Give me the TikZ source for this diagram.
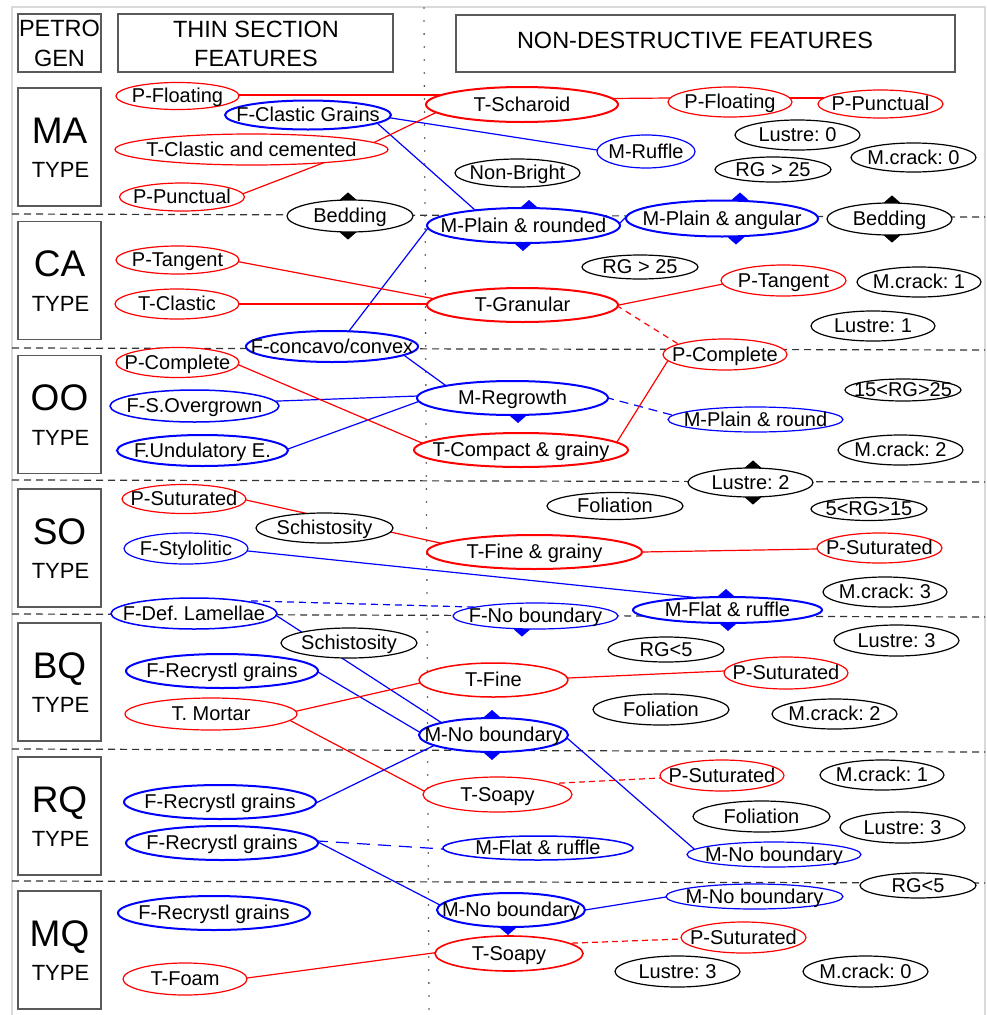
\documentclass[tikz,border=0pt]{standalone}
\usepackage{fontspec}
\setmainfont{Liberation Sans}
\usetikzlibrary{calc,shapes.geometric}
\pgfdeclarelayer{bg}
\pgfsetlayers{bg,main}
\frenchspacing
\newcommand\et[1]{\smash{\makebox[0pt]{\raisebox{-0.34em}{#1}}}}
\newcommand\dmd[2]{\fill[#1] (#2) +(-8,0) -- +(0,-7) -- +(8,0) -- +(0,7) -- cycle;}
\definecolor{rd}{RGB}{255,0,0}
\definecolor{bl}{RGB}{0,0,255}
\tikzset{
  el/.style={ellipse, fill=white, inner sep=0pt, line width=1.2pt, font=\fontsize{20}{23}\selectfont},
  rn/.style={el, draw=rd},
  bn/.style={el, draw=bl},
  kn/.style={el, draw=black},
  thk/.style={line width=2pt},
  sz/.style 2 args={minimum width=#1, minimum height=#2},
  con/.style={line width=1.2pt, shorten <=-3pt, shorten >=-3pt},
  rc/.style={con, rd},
  bc/.style={con, bl},
  sep/.style={line width=1.2pt, dash pattern=on 7pt off 5pt, black!80},
  box/.style={draw=black!65, line width=1.3pt, inner sep=0pt, fill=white},
  hdr/.style={font=\fontsize{23.5}{29.5}\selectfont, inner sep=0pt},
  big/.style={font=\fontsize{37}{37}\selectfont, inner sep=0pt, text height=26.5pt, text depth=0pt},
  typ/.style={font=\fontsize{22}{22}\selectfont, inner sep=0pt, text height=15.8pt, text depth=0pt},
}
\begin{document}
\begin{tikzpicture}[x=1pt,y=-1pt]
\useasboundingbox (0,0) rectangle (986,1015);
% ---------- headers ----------
\node[box, minimum width=83, minimum height=58] (hpg) at (59.5,43) {};
\node[hdr] (hpg1) at (59.5,28.5) {PETRO};
\node[hdr] (hpg2) at (59.5,58) {GEN};
\node[box, minimum width=275, minimum height=58] (hts) at (255.5,43) {};
\node[hdr] (hts1) at (256,29) {THIN SECTION};
\node[hdr] (hts2) at (256,58) {FEATURES};
\node[box, minimum width=499, minimum height=57] (hnd) at (705.5,43.5) {};
\node[hdr] (hnd1) at (695,40) {NON-DESTRUCTIVE FEATURES};
% ---------- type boxes ----------
\foreach \n/\y in {MA/147,CA/280.5,OO/414.5,SO/548,BQ/682,RQ/816,MQ/950}{
  \node[box, minimum width=83, minimum height=118] (t\n) at (59.5,\y) {};
  \node[big] (t\n l) at ($(t\n)+(0,-17)$) {\n};
  \node[typ] (t\n t) at ($(t\n)+(1,23)$) {TYPE};
}
% ---------- MA ----------
\node[rn,sz={123}{27}] (pfl) at (177.5,96) {\et{P-Floating}};
\node[bn,thk,sz={166}{29}] (fcg) at (308,115) {\et{F-Clastic Grains}};
\node[rn,sz={273}{31}] (tcc) at (251.5,149.5) {\et{T-Clastic and cemented}};
\node[rn,sz={125}{28}] (ppu) at (182,197) {\et{P-Punctual}};
\node[kn,sz={126}{32}] (bedl) at (350,216) {\et{Bedding}};
\node[rn,thk,sz={192}{35}] (tsch) at (522,104.5) {\et{T-Scharoid}};
\node[rn,sz={124}{30}] (pflr) at (730,102) {\et{P-Floating}};
\node[rn,sz={125}{28}] (ppur) at (880.5,104) {\et{P-Punctual}};
\node[bn,sz={98}{33}] (mruf) at (646,151.5) {\et{M-Ruffle}};
\node[kn,sz={125}{30}] (lus0) at (797.5,135) {\et{Lustre: 0}};
\node[kn,sz={125}{29}] (mcr0) at (913.5,157.5) {\et{M.crack: 0}};
\node[kn,sz={116}{25}] (rg25a) at (773,169.5) {\et{RG > 25}};
\node[kn,sz={125}{28}] (nonb) at (517.5,173) {\et{Non-Bright}};
\node[bn,thk,sz={193}{35}] (mpr) at (523.5,225.5) {\et{M-Plain \& rounded}};
\node[bn,thk,sz={192}{36}] (mpa) at (722,218.5) {\et{M-Plain \& angular}};
\node[kn,sz={125}{32}] (bedr) at (889.5,219) {\et{Bedding}};
% ---------- CA ----------
\node[rn,sz={123}{28}] (ptl) at (177.5,260) {\et{P-Tangent}};
\node[rn,sz={124}{30}] (tcl) at (177,304) {\et{T-Clastic}};
\node[rn,thk,sz={191}{34}] (tgr) at (522.5,305) {\et{T-Granular}};
\node[kn,sz={116}{24}] (rg25b) at (640,267) {\et{RG > 25}};
\node[rn,sz={125}{31}] (ptr) at (783.5,280.5) {\et{P-Tangent}};
\node[kn,sz={124}{30}] (mcr1) at (919,282) {\et{M.crack: 1}};
\node[kn,sz={124}{30}] (lus1) at (873,326) {\et{Lustre: 1}};
\node[bn,thk,sz={172}{31}] (fcc) at (332,346.5) {\et{F-concavo/convex}};
\node[rn,sz={124}{31}] (pcr) at (725,354.5) {\et{P-Complete}};
% ---------- OO ----------
\node[rn,sz={123}{30}] (pcl) at (177.5,362.5) {\et{P-Complete}};
\node[bn,line width=1.5pt,sz={169}{32}] (fso) at (194.5,406) {\et{F-S.Overgrown}};
\node[bn,thk,sz={171}{31}] (fue) at (202.5,450.5) {\et{F.Undulatory E.}};
\node[bn,thk,sz={191}{34}] (mreg) at (512.5,398) {\et{M-Regrowth}};
\node[rn,thk,sz={214}{34}] (tcg) at (521,450) {\et{T-Compact \& grainy}};
\node[bn,sz={175}{25}] (mpro) at (755.5,419.5) {\et{M-Plain \& round}};
\node[kn,sz={116}{22}] (rg1525) at (903,390) {\et{15<RG>25}};
\node[kn,sz={125}{30}] (mcr2a) at (900.5,450) {\et{M.crack: 2}};
\node[kn,sz={125}{29}] (lus2) at (750.5,482.5) {\et{Lustre: 2}};
% ---------- SO ----------
\node[rn,sz={124}{29}] (psl) at (184,499) {\et{P-Suturated}};
\node[kn,sz={137}{30}] (sch1) at (324.5,528) {\et{Schistosity}};
\node[bn,sz={124}{31}] (fsty) at (186,548.5) {\et{F-Stylolitic}};
\node[kn,sz={136}{27}] (fol1) at (615,506) {\et{Foliation}};
\node[kn,sz={116}{23}] (rg515) at (869,509) {\et{5<RG>15}};
\node[rn,thk,sz={215}{34}] (tfg) at (534.5,552) {\et{T-Fine \& grainy}};
\node[rn,sz={125}{30}] (psr1) at (879.5,548) {\et{P-Suturated}};
\node[kn,sz={124}{30}] (mcr3) at (885,592) {\et{M.crack: 3}};
\node[bn,thk,sz={189}{26}] (mfr1) at (727.5,610) {\et{M-Flat \& ruffle}};
\node[bn,line width=1.5pt,sz={166}{31}] (fdl) at (194,613.5) {\et{F-Def. Lamellae}};
\node[bn,sz={165}{26}] (fnb) at (535.5,616) {\et{F-No boundary}};
% ---------- BQ ----------
\node[kn,sz={136}{30}] (sch2) at (349,643) {\et{Schistosity}};
\node[bn,thk,sz={192}{34}] (frg1) at (222,671) {\et{F-Recrystl grains}};
\node[rn,sz={172}{32}] (tmor) at (211,714) {\et{T. Mortar}};
\node[kn,sz={116}{25}] (rg5a) at (666,649.5) {\et{RG<5}};
\node[kn,sz={125}{31}] (lus3a) at (896.5,640.5) {\et{Lustre: 3}};
\node[rn,line width=1.5pt,sz={149}{34}] (tfin) at (493.5,680) {\et{T-Fine}};
\node[rn,sz={124}{32}] (psr2) at (786,673) {\et{P-Suturated}};
\node[kn,sz={136}{31}] (fol2) at (661,709.5) {\et{Foliation}};
\node[kn,sz={125}{30}] (mcr2b) at (834.5,714) {\et{M.crack: 2}};
\node[bn,thk,sz={149}{34}] (mnb1) at (493.5,735) {\et{M-No boundary}};
% ---------- RQ ----------
\node[bn,thk,sz={192}{34}] (frg2) at (220,802) {\et{F-Recrystl grains}};
\node[bn,thk,sz={192}{34}] (frg3) at (222,843) {\et{F-Recrystl grains}};
\node[rn,sz={149}{35}] (tsoa1) at (497.5,794.5) {\et{T-Soapy}};
\node[rn,sz={124}{31}] (psr3) at (722,775.5) {\et{P-Suturated}};
\node[kn,sz={124}{30}] (mcr1b) at (882,775) {\et{M.crack: 1}};
\node[kn,sz={137}{31}] (fol3) at (761.5,816.5) {\et{Foliation}};
\node[kn,sz={125}{31}] (lus3b) at (902.5,827.5) {\et{Lustre: 3}};
\node[bn,line width=1.5pt,sz={190}{24}] (mfr2) at (538,848) {\et{M-Flat \& ruffle}};
\node[bn,sz={174}{25}] (mnb2) at (774,854.5) {\et{M-No boundary}};
\node[kn,sz={116}{25}] (rg5b) at (918,885.5) {\et{RG<5}};
% ---------- MQ ----------
\node[bn,thk,sz={192}{34}] (frg4) at (214,913) {\et{F-Recrystl grains}};
\node[rn,sz={124}{32}] (tfoam) at (185,979) {\et{T-Foam}};
\node[bn,thk,sz={148}{34}] (mnb3) at (511,910) {\et{M-No boundary}};
\node[bn,sz={177}{25}] (mnb4) at (754.5,896.5) {\et{M-No boundary}};
\node[rn,line width=1.6pt,sz={148}{35}] (tsoa2) at (509,953.5) {\et{T-Soapy}};
\node[rn,sz={125}{31}] (psr4) at (743.5,937.5) {\et{P-Suturated}};
\node[kn,sz={125}{31}] (lus3c) at (677.5,971.5) {\et{Lustre: 3}};
\node[kn,sz={125}{31}] (mcr0b) at (865.5,971.5) {\et{M.crack: 0}};

\begin{pgfonlayer}{bg}
% frame
\draw[black!15, line width=1.5pt] (12,1015) -- (12,7) -- (985,7) -- (985,1015);
% separators
\draw[sep] (12,214) -- (985,217);
\draw[sep] (12,348) -- (985,350);
\draw[sep] (12,480) -- (985,482);
\draw[sep] (12,614) -- (985,617);
\draw[sep] (12,749) -- (985,752);
\draw[sep] (12,881) -- (985,883);
\draw[line width=1.8pt, dash pattern=on 0pt off 13pt, line cap=round, black!75] (424,8) -- (429,1012);
% markers
\dmd{black}{[xshift=-2pt]bedl.north}
\dmd{black}{[xshift=-2pt]bedl.south}
\dmd{bl}{[xshift=5.5pt]mpr.north}
\dmd{bl}{[xshift=-0.5pt]mpr.south}
\dmd{bl}{[xshift=18pt]mpa.north}
\dmd{bl}{[xshift=14pt]mpa.south}
\dmd{black}{[xshift=2.5pt]bedr.north}
\dmd{black}{[xshift=2.5pt]bedr.south}
\dmd{bl}{[xshift=5.5pt]mreg.south}
\dmd{black}{[xshift=2.5pt]lus2.north}
\dmd{black}{[xshift=2.5pt]lus2.south}
\dmd{bl}{[xshift=-1.5pt]mfr1.north}
\dmd{bl}{[xshift=0.5pt]mfr1.south}
\dmd{bl}{[xshift=-13.5pt]fnb.south}
\dmd{bl}{[xshift=-1.5pt]mnb1.north}
\dmd{bl}{[xshift=-1.5pt]mnb1.south}
\dmd{bl}{[xshift=-3pt]mnb3.south}
% connectors
\draw[rc] ($(pfl)+(61.5,-1)$) -- ($(tsch)+(-80,-9.5)$);
\draw[rc] ($(tsch)+(89,-6)$) -- ($(pflr)+(-60,-4)$);
\draw[rc] ($(pflr)+(60,-4)$) -- ($(ppur)+(-57,-6)$);
\draw[bc] ($(fcg)+(83,3)$) -- ($(mruf)+(-49,-1.5)$);
\draw[bc] ($(fcg)+(69,8)$) -- ($(mpr)+(-48.5,-15.5)$);
\draw[rc] ($(tcc)+(121.5,-6.5)$) -- ($(tsch)+(-87,8.5)$);
\draw[rc] ($(ppu)+(63,-4)$) -- ($(tcc)+(71.5,13.5)$);
\draw[bc] ($(mpr)+(96.5,-2.5)$) -- ($(mpa)+(-95,-2.5)$);
\draw[bc] ($(fcc)+(17,-15.5)$) -- ($(mpr)+(-95.5,2.5)$);
\draw[rc] ($(ptl)+(62.5,2)$) -- ($(tgr)+(-92.5,-7)$);
\draw[rc] ($(tcl)+(62,0)$) -- ($(tgr)+(-95.5,-1)$);
\draw[rc] ($(tgr)+(96.5,0)$) -- ($(ptr)+(-60.5,3.5)$);
\draw[rc, dash pattern=on 6pt off 5pt] ($(tgr)+(96.5,2)$) -- ($(pcr)+(-50,-12.5)$);
\draw[bc] ($(fcc)+(73,9.5)$) -- ($(mreg)+(-67.5,-13)$);
\draw[bc] ($(fso)+(84.5,-5)$) -- ($(mreg)+(-94.5,-2)$);
\draw[bc] ($(fue)+(85.5,-1.5)$) -- ($(mreg)+(-92.5,3)$);
\draw[rc] ($(pcl)+(61.5,2.5)$) -- ($(tcg)+(-99,-7)$);
\draw[bc, dash pattern=on 9pt off 6pt] ($(mreg)+(95.5,0)$) -- ($(mpro)+(-83.5,-4.5)$);
\draw[rc] ($(tcg)+(96,-8)$) -- ($(pcr)+(-58,7.5)$);
\draw[rc] ($(psl)+(62,1)$) -- ($(tfg)+(-94.5,-9)$);
\draw[rc] ($(tfg)+(107.5,0)$) -- ($(psr1)+(-62.5,1)$);
\draw[bc] ($(fsty)+(62,2.5)$) -- ($(mfr1)+(-37.5,-13)$);
\draw[bc, dash pattern=on 7pt off 5pt] ($(fdl)+(60,-12.5)$) -- ($(fnb)+(-63.5,-9)$);
\draw[bc] ($(fdl)+(83,2.5)$) -- ($(mnb1)+(-51.5,-12)$);
\draw[bc] ($(frg1)+(96,1)$) -- ($(mnb1)+(-72.5,-2)$);
\draw[rc] ($(tmor)+(86,-3)$) -- ($(tfin)+(-73.5,3)$);
\draw[rc] ($(tmor)+(82,8)$) -- ($(tsoa1)+(-73.5,-3.5)$);
\draw[rc] ($(tfin)+(74.5,-2)$) -- ($(psr2)+(-62,-2)$);
\draw[bc] ($(mnb1)+(73.5,3)$) -- ($(mnb2)+(-81,-6.5)$);
\draw[bc] ($(frg2)+(98,0)$) -- ($(mnb1)+(-58.5,10)$);
\draw[rc, dash pattern=on 6pt off 4pt] ($(tsoa1)+(64.5,-11.5)$) -- ($(psr3)+(-62,2.5)$);
\draw[bc, dash pattern=on 13pt off 8pt] ($(frg3)+(96,-2)$) -- ($(mfr2)+(-95,1)$);
\draw[bc] ($(frg3)+(96,-1)$) -- ($(mnb3)+(-71,-5)$);
\draw[bc] ($(mnb3)+(74,0)$) -- ($(mnb4)+(-88.5,0.5)$);
\draw[rc, dash pattern=on 6pt off 4pt] ($(tsoa2)+(66,-10.5)$) -- ($(psr4)+(-62.5,1.5)$);
\draw[rc] ($(tfoam)+(62,-1)$) -- ($(tsoa2)+(-76,-0.5)$);
\end{pgfonlayer}
\end{tikzpicture}
\end{document}
